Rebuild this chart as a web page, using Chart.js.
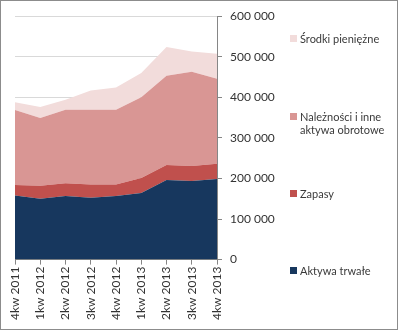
<!DOCTYPE html>
<html>
<head>
<meta charset="utf-8">
<script src="https://cdn.jsdelivr.net/npm/chart.js@4/dist/chart.umd.min.js"></script>
<style>
  html, body { margin: 0; padding: 0; background: #fff; }
  .wrap {
    position: relative;
    width: 396px;
    height: 328px;
    border: 1px solid #8c8c8c;
    font-family: Lato, "Open Sans", sans-serif;
  }
  canvas { position: absolute; left: 0; top: 0; }
  .legend-item {
    position: absolute;
    left: 289px;
    font-size: 11px;
    line-height: 13px;
    color: #3a3a3a;
    padding-left: 10px;
  }
  .legend-item .box {
    position: absolute;
    left: 0;
    top: 3px;
    width: 7px;
    height: 7px;
  }
</style>
</head>
<body>
<div class="wrap">
  <canvas id="myChart" width="396" height="328"></canvas>
  <div id="legend"></div>
</div>
<script>
const quarters = ["4kw 2011", "1kw 2012", "2kw 2012", "3kw 2012", "4kw 2012", "1kw 2013", "2kw 2013", "3kw 2013", "4kw 2013"];

const aktywaTrwale = [158000, 150000, 157000, 152500, 156500, 164000, 196000, 194000, 199000];
const zapasy = [26000, 32000, 31500, 32500, 28500, 37000, 37500, 37000, 37000];
const naleznosci = [184500, 167000, 181000, 184500, 184500, 199000, 220000, 232000, 210000];
const srodki = [19500, 27000, 24500, 47500, 55000, 60000, 70500, 50000, 61500];

const yTicks = [0, 100000, 200000, 300000, 400000, 500000, 600000];

const formatNumber = (v) => String(v).replace(/\B(?=(\d{3})+(?!\d))/g, " ");

const series = [
  { label: "Aktywa trwałe", data: aktywaTrwale, color: "#17375e", top: 263 },
  { label: "Zapasy", data: zapasy, color: "#c0504d", top: 186 },
  { label: "Należności i inne aktywa obrotowe", data: naleznosci, color: "#d99694", top: 109, html: "Należności i inne<br>aktywa obrotowe" },
  { label: "Środki pieniężne", data: srodki, color: "#f2dcdb", top: 31 }
];

const ctx = document.getElementById("myChart");

const myChart = new Chart(ctx, {
  type: "line",
  data: {
    labels: quarters,
    datasets: series.map((s, i) => ({
      label: s.label,
      data: s.data,
      backgroundColor: s.color,
      borderColor: s.color,
      borderWidth: 0,
      pointRadius: 0,
      tension: 0,
      fill: i === 0 ? "origin" : "-1"
    }))
  },
  options: {
    responsive: false,
    animation: false,
    layout: { padding: { left: 14, right: 118, top: 12, bottom: 7 } },
    plugins: { legend: { display: false }, tooltip: { enabled: false } },
    scales: {
      x: {
        offset: false,
        grid: { drawOnChartArea: false, tickLength: 5, color: "#868686" },
        border: { color: "#868686" },
        ticks: {
          maxRotation: 90,
          minRotation: 90,
          padding: 2,
          color: "#333",
          font: { family: "Lato", size: 12 }
        }
      },
      y: {
        position: "right",
        stacked: true,
        min: 0,
        max: 600000,
        afterBuildTicks: (scale) => { scale.ticks = yTicks.map((v) => ({ value: v })); },
        afterFit: (scale) => { scale.width = 62; },
        grid: { color: "#d9d9d9", tickColor: "#868686", tickLength: 5 },
        border: { color: "#868686" },
        ticks: {
          padding: 8,
          color: "#333",
          font: { family: "Lato", size: 12 },
          callback: (v) => formatNumber(v)
        }
      }
    }
  }
});

// legend on the right, spread down the chart height
const legend = document.getElementById("legend");
series.forEach((s) => {
  const item = document.createElement("div");
  item.className = "legend-item";
  item.style.top = s.top + "px";
  item.innerHTML = '<span class="box" style="background:' + s.color + '"></span>' + (s.html || s.label);
  legend.appendChild(item);
});
</script>
</body>
</html>
